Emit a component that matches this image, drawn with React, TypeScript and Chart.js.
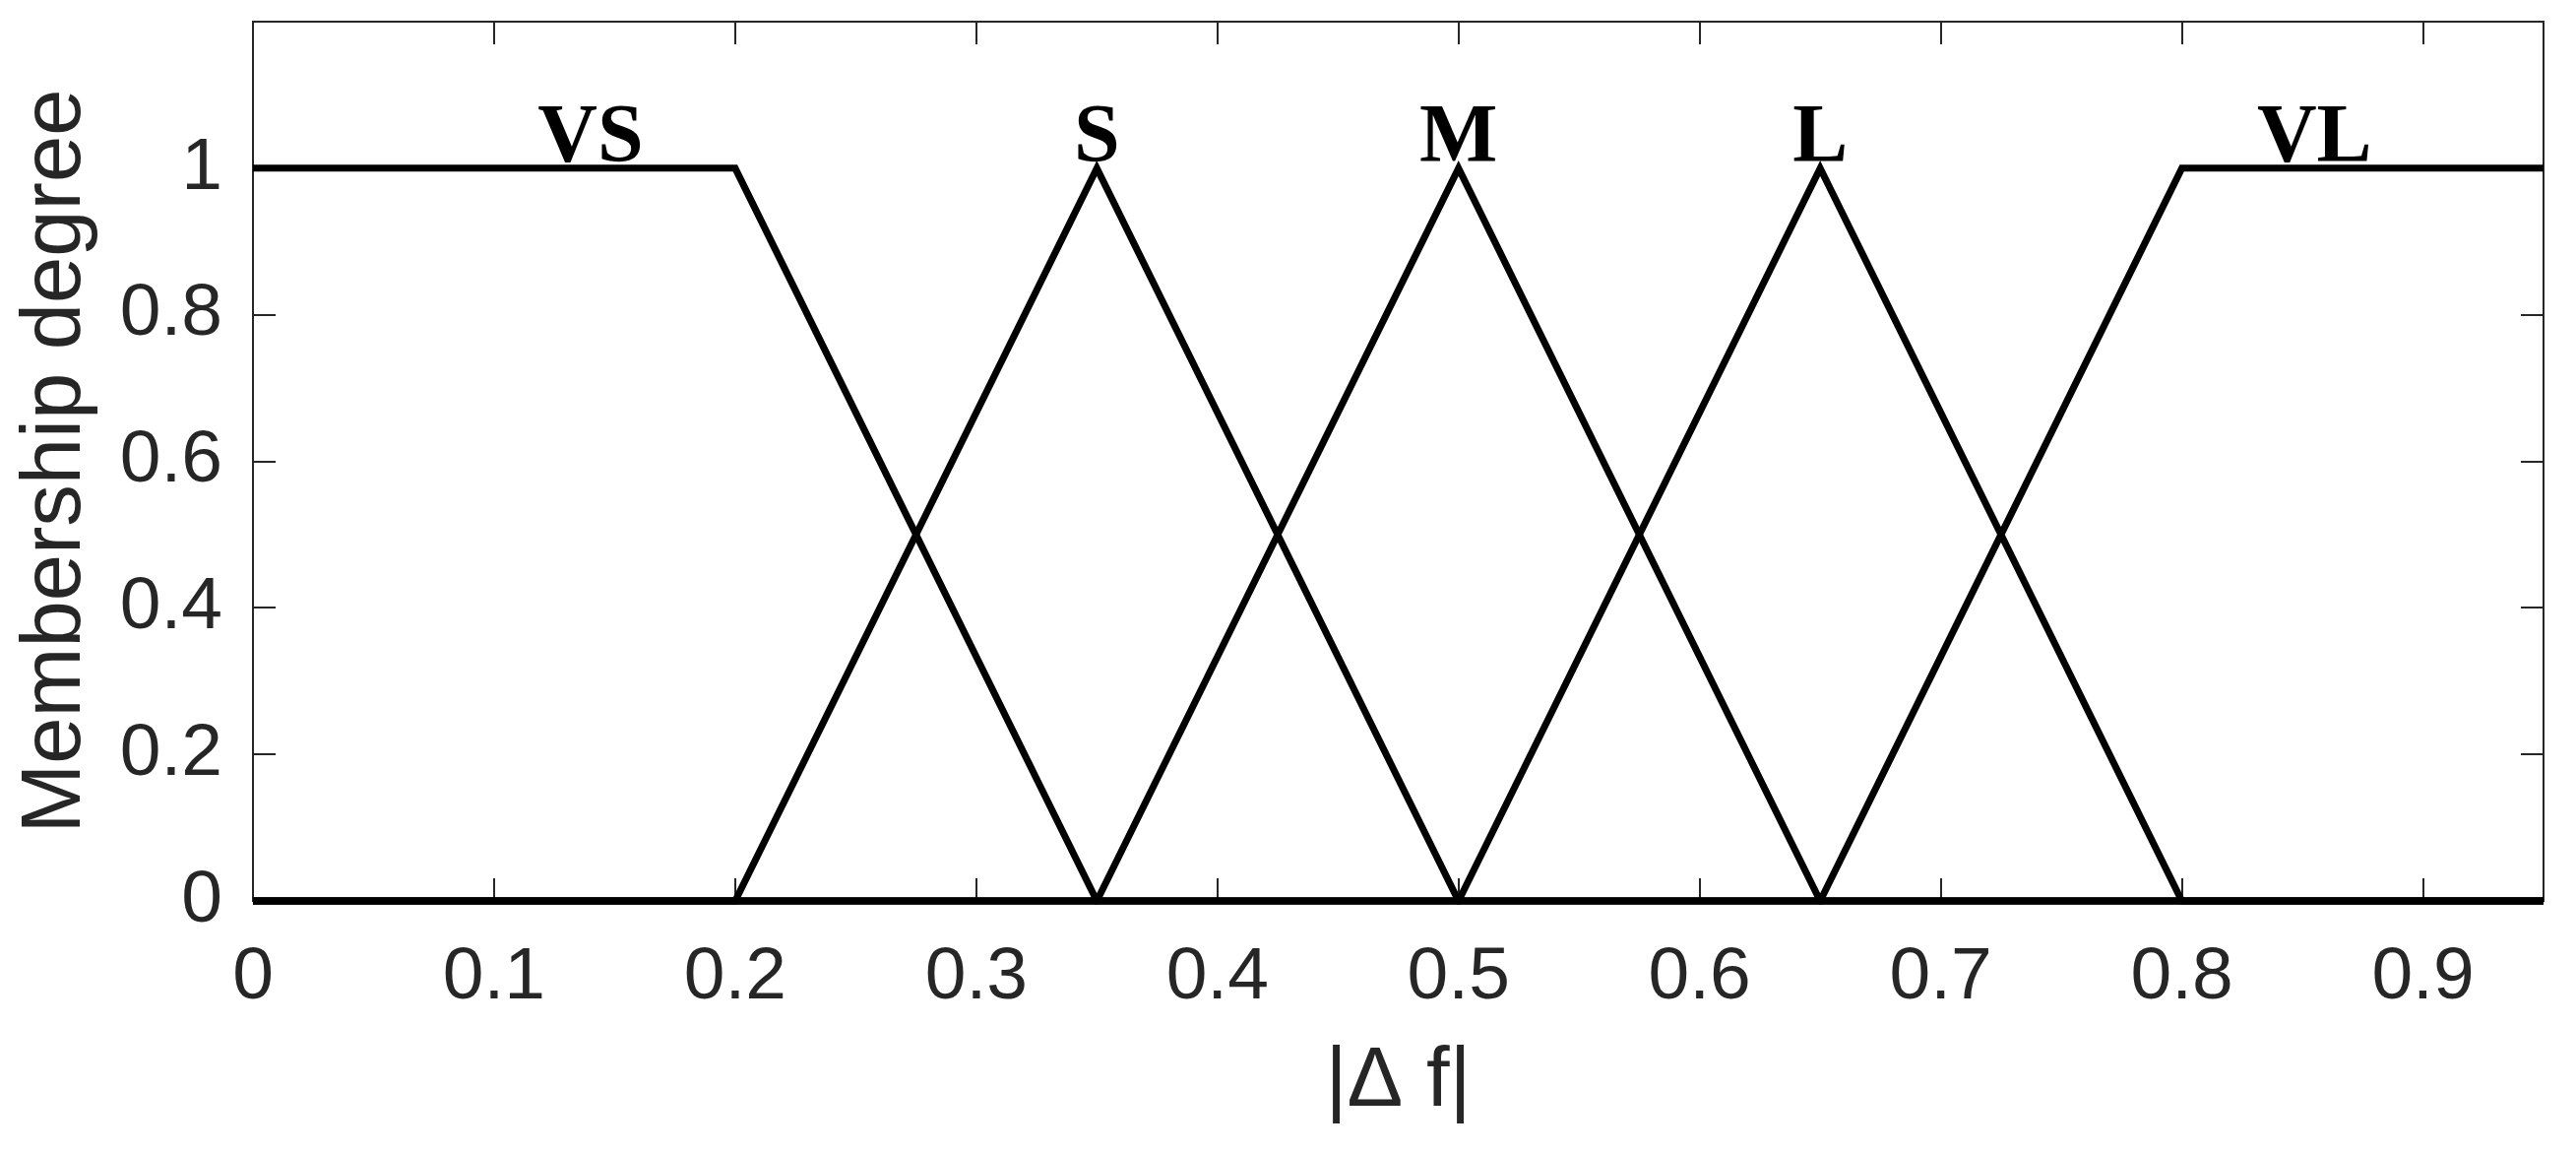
import React, { useEffect, useRef } from "react";
import { Chart, registerables } from "chart.js";

Chart.register(...registerables);

// ---- Data ----
const xTickValues = [0, 0.1, 0.2, 0.3, 0.4, 0.5, 0.6, 0.7, 0.8, 0.9];
const xTickLabels = ["0", "0.1", "0.2", "0.3", "0.4", "0.5", "0.6", "0.7", "0.8", "0.9"];
const yTickValues = [0, 0.2, 0.4, 0.6, 0.8, 1];
const yTickLabels = ["0", "0.2", "0.4", "0.6", "0.8", "1"];

const setNames = ["VS", "S", "M", "L", "VL"];
const setLabelX = [0.14, 0.35, 0.5, 0.65, 0.855];
const setLabelY = [1, 1, 1, 1, 1];

const vsX = [0, 0.2, 0.35, 0.95];
const vsY = [1, 1, 0, 0];
const sX = [0, 0.2, 0.35, 0.5, 0.95];
const sY = [0, 0, 1, 0, 0];
const mX = [0, 0.35, 0.5, 0.65, 0.95];
const mY = [0, 0, 1, 0, 0];
const lX = [0, 0.5, 0.65, 0.8, 0.95];
const lY = [0, 0, 1, 0, 0];
const vlX = [0, 0.65, 0.8, 0.95];
const vlY = [0, 0, 1, 1];

const xTitle = "|\u0394 f|";
const yTitle = "Membership degree";

const seriesX = [vsX, sX, mX, lX, vlX];
const seriesY = [vsY, sY, mY, lY, vlY];

const AXIS_COLOR = "#262626";

const framePlugin = {
  id: "frameTicks",
  beforeDatasetsDraw(chart: any) {
    const { ctx, chartArea } = chart;
    const { left, right, top, bottom } = chartArea;
    const xs = chart.scales.x;
    const ys = chart.scales.y;
    const tl = 23;
    ctx.save();
    ctx.strokeStyle = AXIS_COLOR;
    ctx.lineWidth = 2;
    ctx.strokeRect(left, top, right - left, bottom - top);
    ctx.beginPath();
    xs.ticks.forEach((t: any) => {
      const px = Math.round(xs.getPixelForValue(t.value));
      ctx.moveTo(px, bottom);
      ctx.lineTo(px, bottom - tl);
      ctx.moveTo(px, top);
      ctx.lineTo(px, top + tl);
    });
    ys.ticks.forEach((t: any) => {
      const py = Math.round(ys.getPixelForValue(t.value));
      ctx.moveTo(left, py);
      ctx.lineTo(left + tl, py);
      ctx.moveTo(right, py);
      ctx.lineTo(right - tl, py);
    });
    ctx.stroke();
    ctx.restore();
  },
};

const labelPlugin = {
  id: "setLabels",
  afterDatasetsDraw(chart: any) {
    const { ctx } = chart;
    const xs = chart.scales.x;
    const ys = chart.scales.y;
    ctx.save();
    ctx.font = 'bold 84px "Liberation Serif", "Times New Roman", serif';
    ctx.fillStyle = "#000000";
    ctx.textAlign = "center";
    ctx.textBaseline = "alphabetic";
    setNames.forEach((name, i) => {
      ctx.fillText(name, xs.getPixelForValue(setLabelX[i]), ys.getPixelForValue(setLabelY[i]) - 7);
    });
    ctx.restore();
  },
};

export default function App() {
  const canvasRef = useRef<HTMLCanvasElement | null>(null);

  useEffect(() => {
    const canvas = canvasRef.current;
    if (!canvas) return;
    const datasets = setNames.map((name, i) => ({
      label: name,
      data: seriesX[i].map((xv, j) => ({ x: xv, y: seriesY[i][j] })),
      borderColor: "#000000",
      borderWidth: 7,
      pointRadius: 0,
      fill: false,
      tension: 0,
      clip: false as any,
      borderJoinStyle: "miter" as const,
    }));

    const chart = new Chart(canvas, {
      type: "line",
      data: { datasets },
      plugins: [framePlugin, labelPlugin],
      options: {
        animation: false,
        responsive: false,
        maintainAspectRatio: false,
        layout: { padding: { top: 22, right: 33, left: 0, bottom: 0 } },
        plugins: {
          legend: { display: false },
          tooltip: { enabled: false },
        },
        scales: {
          x: {
            type: "linear",
            min: 0,
            max: 0.95,
            afterBuildTicks: (s: any) => {
              s.ticks = xTickValues.map((v) => ({ value: v }));
            },
            afterFit: (s: any) => {
              s.height = 256;
              s.paddingLeft = 0;
              s.paddingRight = 0;
              s.paddingTop = 0;
              s.paddingBottom = 0;
            },
            grid: { display: false, drawTicks: false },
            border: { display: false },
            ticks: {
              autoSkip: false,
              maxRotation: 0,
              padding: 33,
              color: AXIS_COLOR,
              font: { family: '"Liberation Sans Narrow", "Liberation Sans", Arial, sans-serif', size: 75 },
              callback: (_v: any, i: number) => xTickLabels[i],
            },
            title: {
              display: true,
              text: xTitle,
              color: AXIS_COLOR,
              font: { family: '"Liberation Sans", Arial, sans-serif', size: 85, lineHeight: 1.2 },
              padding: { top: 0, bottom: 20 },
            },
          },
          y: {
            type: "linear",
            min: 0,
            max: 1.2,
            afterBuildTicks: (s: any) => {
              s.ticks = yTickValues.map((v) => ({ value: v }));
            },
            afterFit: (s: any) => {
              s.width = 257;
              s.paddingLeft = 0;
              s.paddingRight = 0;
              s.paddingTop = 0;
              s.paddingBottom = 0;
            },
            grid: { display: false, drawTicks: false },
            border: { display: false },
            ticks: {
              autoSkip: false,
              padding: 31,
              color: AXIS_COLOR,
              font: { family: '"Liberation Sans Narrow", "Liberation Sans", Arial, sans-serif', size: 75 },
              callback: (_v: any, i: number) => yTickLabels[i],
            },
            title: {
              display: true,
              text: yTitle,
              color: AXIS_COLOR,
              font: { family: '"Liberation Sans", Arial, sans-serif', size: 85, lineHeight: 1.2 },
              padding: { top: 7, bottom: 0 },
            },
          },
        },
      },
    });
    return () => chart.destroy();
  }, []);

  return (
    <div style={{ position: "fixed", left: 0, top: 0, width: 2617, height: 1171, background: "#ffffff" }}>
      <canvas ref={canvasRef} width={2617} height={1171} style={{ display: "block" }} />
    </div>
  );
}
